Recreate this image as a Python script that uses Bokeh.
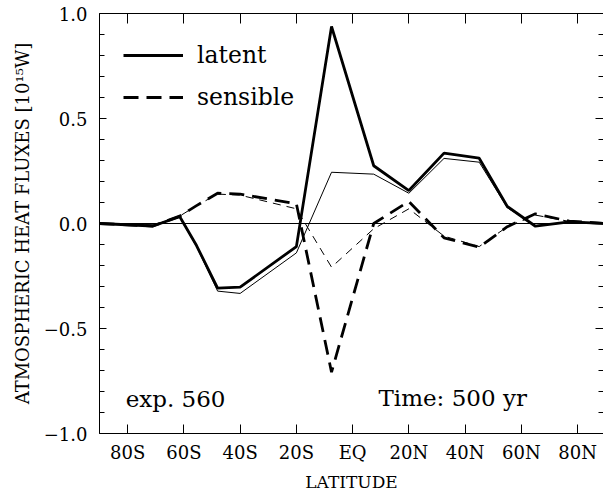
from bokeh.plotting import figure
from bokeh.models import (Range1d, FixedTicker, LinearAxis, Span, Legend, LegendItem)
from bokeh.core.properties import value
from bokeh.embed import file_html
from bokeh.resources import INLINE

# ---- data ----
lat = [-90, -71, -61.5, -55.5, -48, -40, -20, -7.5, 7.5, 20, 32.5, 45, 55, 65, 77, 90]
latent_thick = [0.0, -0.012, 0.033, -0.105, -0.308, -0.303, -0.11, 0.938, 0.275, 0.157,
                0.335, 0.311, 0.081, -0.013, 0.008, 0.0]
latent_thin = [0.0, -0.008, 0.03, -0.11, -0.322, -0.333, -0.14, 0.244, 0.235, 0.144,
               0.31, 0.292, 0.075, -0.01, 0.005, 0.0]
sensible_thick = [0.0, -0.012, 0.035, 0.085, 0.144, 0.14, 0.094, -0.708, 0.0, 0.105,
                  -0.068, -0.113, -0.015, 0.046, 0.011, 0.0]
sensible_thin = [0.0, -0.01, 0.035, 0.085, 0.14, 0.135, 0.07, -0.208, -0.025, 0.07,
                 -0.06, -0.11, -0.015, 0.04, 0.01, 0.0]

x_ticks = [-80, -60, -40, -20, 0, 20, 40, 60, 80]
x_tick_labels = ["80S", "60S", "40S", "20S", "EQ", "20N", "40N", "60N", "80N"]
y_ticks = [-1.0, -0.5, 0.0, 0.5, 1.0]
y_tick_labels = ["\u22121.0", "\u22120.5", "0.0", "0.5", "1.0"]
y_minor = [round(-1 + 0.1 * i, 1) for i in range(21)]

FONT = "DejaVu Serif"

p = figure(width=603, height=496, output_backend="svg", toolbar_location=None,
           x_range=Range1d(-90, 89.2), y_range=Range1d(-1.0, 1.0),
           min_border_left=99, min_border_right=0, min_border_top=13, min_border_bottom=63)
p.outline_line_color = None
p.xgrid.visible = False
p.ygrid.visible = False
p.background_fill_color = "white"
p.border_fill_color = "white"

# bottom axis
xa = p.xaxis[0]
xa.ticker = FixedTicker(ticks=x_ticks)
xa.major_label_overrides = dict(zip(x_ticks, x_tick_labels))
xa.major_tick_in = 9
xa.major_tick_out = 0
xa.minor_tick_in = 0
xa.minor_tick_out = 0
xa.major_label_standoff = 8
xa.major_label_text_font = FONT
xa.major_label_text_font_size = "18px"
xa.major_label_text_color = "black"
xa.axis_label = "LATITUDE"
xa.axis_label_text_font = FONT
xa.axis_label_text_font_size = "17px"
xa.axis_label_text_font_style = "normal"
xa.axis_label_text_color = "black"
xa.axis_label_standoff = 6
xa.axis_line_color = "black"
xa.major_tick_line_color = "black"

# left axis
ya = p.yaxis[0]
ya.ticker = FixedTicker(ticks=y_ticks, minor_ticks=y_minor)
ya.major_label_overrides = dict(zip(y_ticks, y_tick_labels))
ya.major_tick_in = 7
ya.major_tick_out = 0
ya.minor_tick_in = 5
ya.minor_tick_out = 0
ya.major_label_standoff = 12
ya.major_label_text_font = FONT
ya.major_label_text_font_size = "18px"
ya.major_label_text_color = "black"
ya.axis_label = "ATMOSPHERIC HEAT FLUXES [10\u00b9\u2075W]"
ya.axis_label_text_font = FONT
ya.axis_label_text_font_size = "18px"
ya.axis_label_text_font_style = "normal"
ya.axis_label_text_color = "black"
ya.axis_label_standoff = 8
ya.axis_line_color = "black"

# top axis (ticks only)
ta = LinearAxis(ticker=FixedTicker(ticks=x_ticks), major_tick_in=10, major_tick_out=0,
                minor_tick_in=0, minor_tick_out=0,
                major_label_overrides={t: "" for t in x_ticks},
                major_label_standoff=0, axis_line_color="black")
p.add_layout(ta, "above")

# right axis (ticks only; its line lies beyond the picture)
ra = LinearAxis(ticker=FixedTicker(ticks=y_ticks, minor_ticks=y_minor), major_tick_in=8,
                major_tick_out=0, minor_tick_in=5, minor_tick_out=0,
                major_label_overrides={t: "" for t in y_ticks},
                major_label_standoff=0, axis_line_color=None)
p.add_layout(ra, "right")

# zero line
p.add_layout(Span(location=0, dimension="width", line_color="black", line_width=1))

r_lt = p.line(lat, latent_thick, line_color="black", line_width=2.8)
p.line(lat, latent_thin, line_color="black", line_width=1)
r_st = p.line(lat, sensible_thick, line_color="black", line_width=2.8, line_dash="15 8")
p.line(lat, sensible_thin, line_color="black", line_width=1, line_dash="8 6")

legend = Legend(items=[LegendItem(label="latent", renderers=[r_lt]),
                       LegendItem(label="sensible", renderers=[r_st])],
                location=(24, 321), margin=0, padding=0, spacing=12,
                glyph_width=60, glyph_height=30, label_height=30, label_standoff=14,
                label_text_font=FONT, label_text_font_size="23.5px",
                label_text_color="black",
                border_line_color=None, background_fill_alpha=0)
p.add_layout(legend)

p.text(x=[-80.7], y=[-0.838], text=["exp. 560"], text_font=value(FONT),
       text_font_size="23px", text_baseline="alphabetic", text_color="black")
p.text(x=[9.2], y=[-0.833], text=["Time: 500 yr"], text_font=value(FONT),
       text_font_size="23px", text_baseline="alphabetic", text_color="black")

open("out.html", "w").write(file_html(p, INLINE))
